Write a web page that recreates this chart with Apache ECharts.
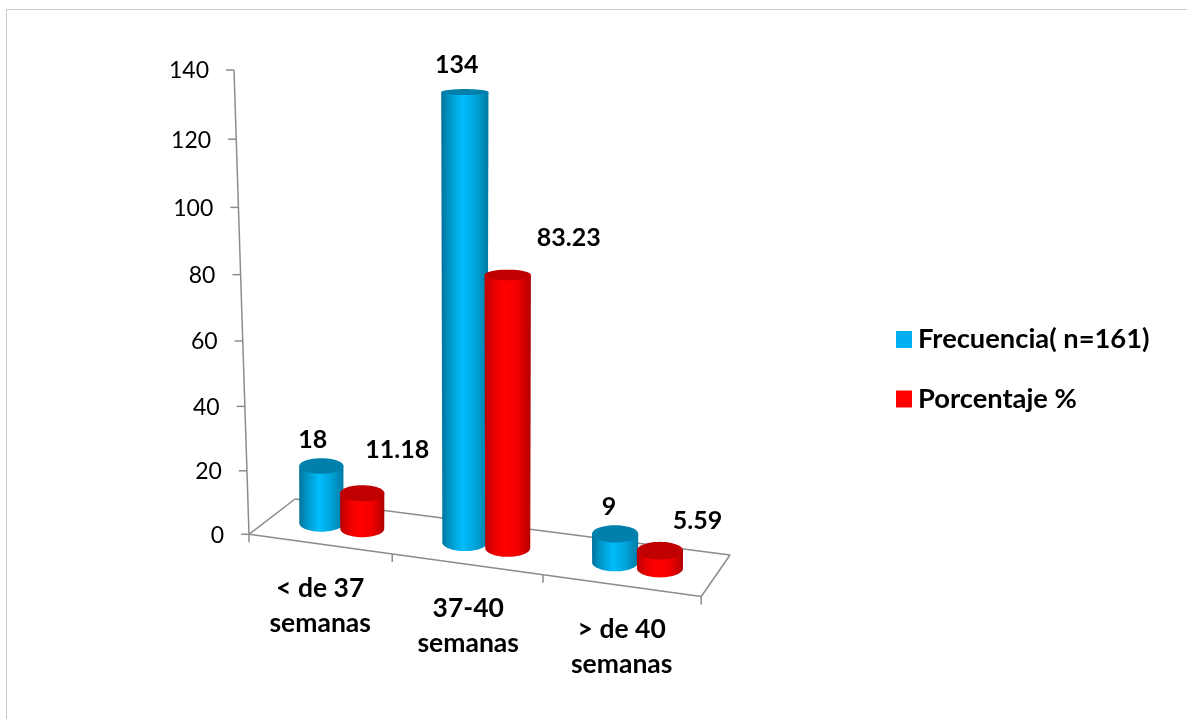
<!DOCTYPE html>
<html>
<head>
<meta charset="utf-8">
<style>html,body{margin:0;padding:0;background:#fff}#c{width:1187px;height:719px}</style>
<script src="https://cdn.jsdelivr.net/npm/echarts@6/dist/echarts.min.js"></script>
</head>
<body>
<div id="c"></div>
<script>
const categories = ['< de 37\nsemanas', '37-40\nsemanas', '> de 40\nsemanas'];
const frecuencia = [18, 134, 9];
const porcentaje = [11.18, 83.23, 5.59];
const yTicks = [0, 20, 40, 60, 80, 100, 120, 140];
const seriesNames = ['Frecuencia( n=161)', 'Porcentaje %'];

const FONT = 'Lato';
const YMAX = 140;
const GL = 249, GW = 453, GT = 70, GH = 464.3;

// Perspective of the chart floor
function front(u){ const x = 249 + 139.5*u + 3.75*u*u; return [x, 534.3 + 0.1375*(x-249)]; }
function back(u){ const x = 295 + 136*u + 3*u*u; return [x, 499 + 0.1287*(x-295)]; }
function floor(u, d){ const f = front(u), b = back(u); return [f[0]+(b[0]-f[0])*d, f[1]+(b[1]-f[1])*d]; }
// Foreshortening of heights
function warp(h, k){ return h*(0.95 + k*h/GH); }
function axisX(h){ return 249 - 15*h/GH; }
function bandU(api, c){ return (api.coord([c, 0])[0] - GL)/(GW/3); }

function ellipsePts(cx, cy, rx, ry, a0, a1, n){
  const p = [];
  for(let i=0;i<=n;i++){ const a = a0+(a1-a0)*i/n; p.push([cx+rx*Math.cos(a), cy+ry*Math.sin(a)]); }
  return p;
}
const ryAt = y => 3 + (y-93)*0.0128;
const grad = stops => new echarts.graphic.LinearGradient(0,0,1,0,stops.map(s=>({offset:s[0],color:s[1]})));
const blueStops = [[0,'#00719A'],[0.14,'#0090BF'],[0.45,'#00BDFC'],[0.72,'#00A4DB'],[1,'#007AA3']];
const redStops  = [[0,'#B80000'],[0.25,'#F00000'],[0.45,'#FF0000'],[0.72,'#F20000'],[1,'#B00000']];

// data-label placement relative to the cylinder top
const labelNudge = [[[-8.5,-26],[35,-43]],[[-8,-27],[61,-37]],[[-6,-27],[37.5,-30]]];

function cylinder(sIdx, stops, topColor){
  return function(params, api){
    const c = api.value(0), v = api.value(1);
    const u = bandU(api, c) + (sIdx === 0 ? -0.145 : 0.145);
    const base = floor(u, 0.5);
    const h = warp(api.coord([c,0])[1] - api.coord([c,v])[1], 0.066);
    const topY = base[1] - h;
    const rb = (44 + c)/2, rt = rb + 0.0025*h;
    const ryT = ryAt(topY), ryB = ryAt(base[1]);
    const side = [[base[0]-rt, topY]]
      .concat(ellipsePts(base[0], base[1], rb, ryB, Math.PI, 0, 30))
      .concat([[base[0]+rt, topY]]);
    const nudge = labelNudge[c][sIdx];
    return {type:'group', children:[
      {type:'polygon', shape:{points:side}, style:{fill:grad(stops)}},
      {type:'polygon', shape:{points:ellipsePts(base[0], topY, rt, ryT, 0, Math.PI*2, 48)}, style:{fill:topColor}},
      {type:'text', style:{text:String(v), x:base[0]+nudge[0], y:topY+nudge[1], align:'center', verticalAlign:'middle',
        fontFamily:FONT, fontWeight:'bold', fontSize:25, fill:'#000'}}
    ]};
  };
}

function frame(params, api){
  const lines = [], texts = [];
  const lineStyle = {stroke:'#8C8C8C', lineWidth:1.5, fill:null};
  const seg = (a,b)=>lines.push({type:'line', shape:{x1:a[0],y1:a[1],x2:b[0],y2:b[1]}, style:lineStyle});
  const y0 = api.coord([0,0])[1];
  const pt = v => { const raw = y0 - api.coord([0,v])[1]; const h = warp(raw, 0.05); return [axisX(raw), y0 - h]; };
  // value axis
  seg(pt(0), pt(YMAX));
  yTicks.forEach(t=>{
    const p = pt(t);
    seg([p[0]-8, p[1]], p);
    texts.push({type:'text', style:{text:String(t), x:p[0]-25, y:p[1]+1, align:'right', verticalAlign:'middle',
      fontFamily:FONT, fontSize:23, fill:'#000'}});
  });
  // floor
  const n = categories.length;
  seg(front(0), front(n));
  seg(front(n), back(n));
  seg(back(n), back(0));
  seg(back(0), front(0));
  for(let i=0;i<=n;i++){ const f = front(i); seg(f, [f[0], f[1]+8]); }
  // category labels
  categories.forEach((name,i)=>{
    const f = front(bandU(api,i));
    const parts = name.split('\n');
    const dx = i===1 ? 1.5 : 0.5;
    parts.forEach((line,k)=>texts.push({type:'text', style:{text:line, x:f[0]+dx, y:f[1]+44+k*35, align:'center', verticalAlign:'middle',
      fontFamily:FONT, fontWeight:'bold', fontSize:26.5, fill:'#000'}}));
  });
  return {type:'group', children:lines.concat(texts)};
}

const chart = echarts.init(document.getElementById('c'), null, {renderer:'canvas'});
chart.setOption({
  animation:false,
  backgroundColor:'#fff',
  graphic:[
    {type:'line', shape:{x1:6.5,y1:9.5,x2:1187,y2:9.5}, style:{stroke:'#C9C9C9',lineWidth:1}, silent:true},
    {type:'line', shape:{x1:6.5,y1:9.5,x2:6.5,y2:719}, style:{stroke:'#C9C9C9',lineWidth:1}, silent:true}
  ],
  grid:{left:GL, top:GT, width:GW, height:GH},
  xAxis:{type:'category', data:categories, show:false},
  yAxis:{type:'value', min:0, max:YMAX, interval:20, show:false},
  legend:{
    orient:'vertical', left:896, top:326, padding:0, itemWidth:16, itemHeight:17, itemGap:32.5, icon:'rect',
    data:seriesNames, selectedMode:false,
    textStyle:{fontFamily:FONT, fontWeight:'bold', fontSize:27.3, color:'#000', padding:[0,0,0,1], height:25, lineHeight:25}
  },
  series:[
    {type:'custom', name:'frame', silent:true, coordinateSystem:'cartesian2d', renderItem:frame, data:[[0,0]], clip:false, z:1},
    {type:'custom', name:seriesNames[0], coordinateSystem:'cartesian2d', renderItem:cylinder(0, blueStops, '#0080AB'),
      itemStyle:{color:'#00B0F0'}, data:frecuencia.map((v,i)=>[i,v]), encode:{x:0,y:1}, clip:false, z:2},
    {type:'custom', name:seriesNames[1], coordinateSystem:'cartesian2d', renderItem:cylinder(1, redStops, '#C00000'),
      itemStyle:{color:'#FF0000'}, data:porcentaje.map((v,i)=>[i,v]), encode:{x:0,y:1}, clip:false, z:3}
  ]
});
</script>
</body>
</html>
